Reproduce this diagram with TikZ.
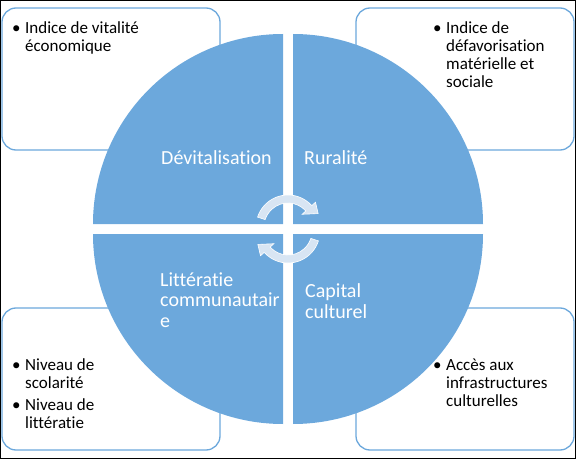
\documentclass[tikz,border=0pt]{standalone}
\usepackage{fontspec}
\setmainfont{Carlito}[Ligatures=NoCommon]
\usetikzlibrary{positioning,calc}

\definecolor{quadblue}{RGB}{108,168,220}
\definecolor{arrowpale}{RGB}{216,229,243}
\newcommand{\bul}{\makebox[13pt][l]{\textbullet}}

\begin{document}
\begin{tikzpicture}[
        x=1pt, y=1pt,
        infobox/.style={rectangle, rounded corners=14pt, draw=quadblue, line width=1.3pt, fill=white,
            minimum width=218pt, minimum height=142pt, inner sep=0pt},
        quad/.style={fill=quadblue},
        quad_label/.style={text=white, font=\fontsize{20}{20.5}\selectfont, align=left, anchor=base west, inner sep=0pt},
        bullets/.style={font=\fontsize{17}{18}\selectfont, anchor=base west, inner sep=0pt},
        cyc/.style={fill=arrowpale, draw=white, line width=0.6pt}
    ]
    \useasboundingbox (0,0) rectangle (576,459);
    \draw[black, line width=1pt] (0.5,0.5) rectangle (575.5,458.5);

    % Indicator boxes (behind the circle)
    \node[infobox] (vitbox) at (111,380) {};
    \node[infobox] (defbox) at (465,380) {};
    \node[infobox] (litbox) at (111,80) {};
    \node[infobox] (accbox) at (465,80) {};

    % Quadrants
    \fill[quad] (283,235) -- ++(-190,0) arc[start angle=180, end angle=90, radius=190] -- cycle;
    \fill[quad] (293,235) -- ++(0,190) arc[start angle=90, end angle=0, radius=190] -- cycle;
    \fill[quad] (283,225) -- ++(0,-190) arc[start angle=270, end angle=180, radius=190] -- cycle;
    \fill[quad] (293,225) -- ++(190,0) arc[start angle=0, end angle=-90, radius=190] -- cycle;

    % Quadrant labels (base = last line)
    \node[quad_label] (devit) at (161,295) {Dévitalisation};
    \node[quad_label] (rural) at (304,295) {Ruralité};
    \node[quad_label] (litcom) at (160,132) {Littératie\\communautair\\e};
    \node[quad_label] (capcul) at (305,141) {Capital\\culturel};

    % Bullet lists
    \node[bullets] (vitlist) at (12,425) {\begin{tabular}[t]{@{}l@{}l@{}}
        \bul & Indice de vitalité\\ & économique\end{tabular}};
    \node[bullets] (deflist) at (433,425) {\begin{tabular}[t]{@{}l@{}l@{}}
        \bul & Indice de\\ & défavorisation\\ & matérielle et\\ & sociale\end{tabular}};
    \node[bullets] (litlist) at (12,89) {\begin{tabular}[t]{@{}l@{}l@{}}
        \bul & Niveau de\\ & scolarité\\[4pt] \bul & Niveau de\\ & littératie\end{tabular}};
    \node[bullets] (acclist) at (433,89) {\begin{tabular}[t]{@{}l@{}l@{}}
        \bul & Accès aux\\ & infrastructures\\ & culturelles\end{tabular}};

    % Cycle arrows
    \coordinate (ctop) at (288,232);
    \coordinate (cbot) at (288,228);
    \filldraw[cyc] ($(ctop)+(162:32)$) arc[start angle=162, end angle=42, radius=32]
        -- ($(ctop)+(42:37)$) -- ($(ctop)+(24:33)$) -- ($(ctop)+(42:19)$)
        -- ($(ctop)+(42:24)$) arc[start angle=42, end angle=162, radius=24] -- cycle;
    \filldraw[cyc] ($(cbot)+(-18:32)$) arc[start angle=-18, end angle=-138, radius=32]
        -- ($(cbot)+(-138:37)$) -- ($(cbot)+(-156:33)$) -- ($(cbot)+(-138:19)$)
        -- ($(cbot)+(-138:24)$) arc[start angle=-138, end angle=-18, radius=24] -- cycle;
\end{tikzpicture}
\end{document}
